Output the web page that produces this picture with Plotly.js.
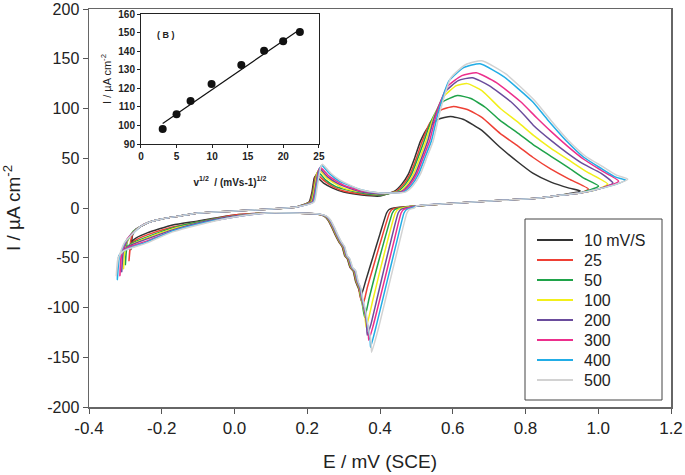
<!DOCTYPE html>
<html>
<head>
<meta charset="utf-8">
<script src="https://cdn.plot.ly/plotly-3.0.1.min.js"></script>
<style>
  html, body { margin: 0; padding: 0; background: #fff; }
  #cv { width: 685px; height: 475px; }
</style>
</head>
<body>
<div id="cv"></div>
<script>
"use strict";

// scan rates (legend labels) and line colours
var scanRates = ['10 mV/S', '25', '50', '100', '200', '300', '400', '500'];
var rateColors = ['#333333', '#ee4035', '#1fa34a', '#f2ef1a', '#6a4c9c', '#ec2f8c', '#22ade6', '#d2d2d2'];

// cyclic voltammograms, [E (V), I (uA cm-2)] in scan order
var cv10 = [[-0.285,-42],[-0.28,-27],[-0.27,-21],[-0.26,-19],[-0.24,-15],[-0.2,-11],[-0.15,-8],[-0.1,-5],[0.0,-3],[0.1,-1],[0.17,1],
  [0.205,6],[0.213,16],[0.219,30],[0.222,32],[0.23,30],[0.245,25],[0.27,20],[0.30,16],[0.35,13],[0.40,12],
  [0.44,17],[0.46,24],[0.478,34],[0.495,50],[0.511,67],[0.53,80],[0.56,89],[0.594,92],
  [0.63,89],[0.68,78],[0.73,61],[0.78,46],[0.82,35],[0.87,26],[0.92,20],[0.951,17],
  [0.9,13],[0.84,10],[0.7,7],[0.57,4],[0.5,2],
  [0.438,0],[0.425,-1.5],[0.418,-5],[0.40,-26],[0.38,-50],[0.36,-74],[0.348,-88],
  [0.34,-80],[0.333,-74],[0.326,-63],[0.318,-60],[0.31,-51],[0.303,-48],[0.296,-39],[0.287,-34],[0.277,-27],[0.267,-19],[0.257,-12],[0.245,-8],[0.225,-6],
  [0.15,-5],[0.09,-5],[0.0,-7],[-0.1,-13],[-0.17,-17],[-0.24,-25],[-0.27,-30],[-0.28,-33],[-0.285,-42]];

var cv25 = [[-0.29,-53],[-0.285,-32],[-0.275,-23],[-0.26,-19],[-0.24,-15],[-0.2,-11],[-0.15,-8],[-0.1,-5],[0.0,-3],[0.1,-1],[0.17,1],
  [0.207,6],[0.215,16],[0.222,31],[0.225,34],[0.233,32],[0.248,27],[0.273,21],[0.30,17],[0.35,14],[0.40,13],
  [0.445,17],[0.465,24],[0.483,34],[0.50,50],[0.516,67],[0.535,84],[0.565,98],[0.602,102],
  [0.64,99],[0.68,91],[0.73,75],[0.78,62],[0.82,51],[0.87,39],[0.92,29],[0.973,19],
  [0.95,15],[0.9,13],[0.84,10],[0.7,7],[0.57,4],[0.5,2],
  [0.446,0],[0.433,-1.5],[0.426,-5],[0.40,-36],[0.38,-61],[0.365,-80],[0.354,-96],
  [0.346,-90],[0.341,-80],[0.334,-74],[0.327,-63],[0.319,-60],[0.311,-51],[0.304,-48],[0.297,-39],[0.288,-34],[0.278,-27],[0.268,-19],[0.258,-12],[0.246,-8],[0.226,-6],
  [0.15,-5],[0.09,-5],[0.0,-7],[-0.1,-14],[-0.17,-19],[-0.24,-27],[-0.275,-33],[-0.285,-37],[-0.29,-53]];

var cv50 = [[-0.30,-57],[-0.295,-34],[-0.28,-24],[-0.26,-19],[-0.24,-15],[-0.2,-11],[-0.15,-8],[-0.1,-5],[0.0,-3],[0.1,-1],[0.17,1],
  [0.209,6],[0.217,17],[0.225,33],[0.228,36],[0.236,34],[0.251,28],[0.276,22],[0.30,19],[0.35,15],[0.40,13],
  [0.45,17],[0.47,24],[0.487,34],[0.504,50],[0.521,67],[0.54,87],[0.57,106],[0.613,113],
  [0.65,110],[0.69,101],[0.73,88],[0.78,75],[0.82,64],[0.87,52],[0.92,40],[0.96,30],[1.001,22],
  [0.95,15],[0.9,13],[0.84,10],[0.7,7],[0.57,4],[0.5,2],
  [0.454,0],[0.441,-1.5],[0.434,-5],[0.41,-35],[0.39,-62],[0.37,-91],[0.358,-110],
  [0.352,-98],[0.347,-90],[0.342,-80],[0.335,-74],[0.328,-63],[0.32,-60],[0.312,-51],[0.305,-48],[0.298,-39],[0.289,-34],[0.279,-27],[0.269,-19],[0.259,-12],[0.247,-8],[0.227,-6],
  [0.15,-5],[0.09,-5],[0.0,-8],[-0.1,-14],[-0.17,-20],[-0.24,-29],[-0.28,-35],[-0.295,-39],[-0.30,-57]];

var cv100 = [[-0.305,-61],[-0.30,-38],[-0.285,-27],[-0.26,-19],[-0.24,-15],[-0.2,-11],[-0.15,-8],[-0.1,-5],[0.0,-3],[0.1,-1],[0.17,1],
  [0.211,6],[0.219,18],[0.227,35],[0.231,38],[0.239,36],[0.254,30],[0.279,24],[0.30,20],[0.35,16],[0.40,14],
  [0.455,17],[0.475,24],[0.492,34],[0.509,50],[0.526,67],[0.545,89],[0.575,112],[0.61,123],[0.64,125],
  [0.68,118],[0.731,100],[0.78,86],[0.822,73],[0.87,60],[0.92,48],[0.97,36],[1.026,24],
  [1.0,19],[0.95,15],[0.9,13],[0.84,10],[0.7,7],[0.57,4],[0.5,2],
  [0.462,0],[0.449,-1.5],[0.442,-5],[0.42,-34],[0.40,-63],[0.38,-93],[0.362,-120],
  [0.358,-106],[0.353,-98],[0.348,-90],[0.343,-80],[0.336,-74],[0.329,-63],[0.321,-60],[0.313,-51],[0.306,-48],[0.299,-39],[0.29,-34],[0.28,-27],[0.27,-19],[0.26,-12],[0.248,-8],[0.228,-6],
  [0.15,-5],[0.09,-5],[0.0,-8],[-0.1,-15],[-0.17,-21],[-0.24,-30],[-0.285,-37],[-0.30,-41],[-0.305,-61]];

var cv200 = [[-0.31,-64],[-0.305,-42],[-0.29,-29],[-0.26,-19],[-0.24,-15],[-0.2,-11],[-0.15,-8],[-0.1,-5],[0.0,-3],[0.1,-1],[0.17,1],
  [0.213,6],[0.221,18],[0.23,37],[0.234,40],[0.242,37],[0.257,31],[0.282,25],[0.30,22],[0.35,16],[0.40,14],
  [0.46,17],[0.48,24],[0.497,34],[0.514,50],[0.531,67],[0.55,92],[0.58,117],[0.615,128],[0.654,131],
  [0.70,123],[0.759,107],[0.80,92],[0.822,83],[0.87,68],[0.916,55],[0.96,44],[1.007,35],[1.04,25],
  [1.0,19],[0.95,15],[0.9,13],[0.84,10],[0.7,7],[0.57,4],[0.5,2],
  [0.470,0],[0.457,-1.5],[0.450,-5],[0.43,-33],[0.41,-63],[0.39,-94],[0.375,-117],[0.365,-128],
  [0.363,-116],[0.359,-106],[0.354,-98],[0.349,-90],[0.344,-80],[0.337,-74],[0.33,-63],[0.322,-60],[0.314,-51],[0.307,-48],[0.3,-39],[0.291,-34],[0.281,-27],[0.271,-19],[0.261,-12],[0.249,-8],[0.229,-6],
  [0.15,-5],[0.09,-5],[0.0,-8],[-0.1,-15],[-0.17,-22],[-0.24,-31],[-0.29,-38],[-0.305,-43],[-0.31,-64]];

var cv300 = [[-0.315,-68],[-0.31,-46],[-0.295,-31],[-0.26,-19],[-0.24,-15],[-0.2,-11],[-0.15,-8],[-0.1,-5],[0.0,-3],[0.1,-1],[0.17,1],
  [0.215,6],[0.223,19],[0.232,38],[0.236,41],[0.245,38],[0.26,32],[0.285,26],[0.30,23],[0.35,17],[0.40,15],
  [0.46,16],[0.48,22],[0.501,34],[0.518,50],[0.536,67],[0.555,94],[0.585,122],[0.625,133],[0.665,136],
  [0.72,126],[0.786,107],[0.83,91],[0.87,77],[0.916,62],[0.96,49],[1.007,38],[1.056,27],
  [1.0,19],[0.95,15],[0.9,13],[0.84,10],[0.7,7],[0.57,4],[0.5,2],
  [0.478,0],[0.465,-1.5],[0.458,-5],[0.44,-31],[0.42,-61],[0.40,-91],[0.38,-120],[0.369,-133],
  [0.368,-124],[0.364,-116],[0.36,-106],[0.355,-98],[0.35,-90],[0.345,-80],[0.338,-74],[0.331,-63],[0.323,-60],[0.315,-51],[0.308,-48],[0.301,-39],[0.292,-34],[0.282,-27],[0.272,-19],[0.262,-12],[0.25,-8],[0.23,-6],
  [0.15,-5],[0.09,-5],[0.0,-9],[-0.1,-16],[-0.17,-23],[-0.24,-33],[-0.295,-40],[-0.31,-45],[-0.315,-68]];

var cv400 = [[-0.322,-72],[-0.317,-50],[-0.30,-34],[-0.26,-19],[-0.24,-15],[-0.2,-11],[-0.15,-8],[-0.1,-5],[0.0,-3],[0.1,-1],[0.17,1],
  [0.217,6],[0.225,20],[0.235,40],[0.24,43],[0.248,40],[0.263,34],[0.288,27],[0.30,25],[0.35,18],[0.40,15],
  [0.465,16],[0.485,22],[0.506,34],[0.523,50],[0.541,67],[0.56,96],[0.59,128],[0.63,141],[0.675,145],
  [0.74,132],[0.819,107],[0.86,89],[0.916,66],[0.96,51],[1.007,40],[1.048,31],[1.075,28],
  [1.05,24],[1.0,19],[0.95,15],[0.9,13],[0.84,10],[0.7,7],[0.57,4],[0.5,2],
  [0.486,0],[0.473,-1.5],[0.466,-5],[0.45,-28],[0.43,-58],[0.41,-88],[0.39,-118],[0.374,-140],
  [0.373,-131],[0.369,-124],[0.365,-116],[0.361,-106],[0.356,-98],[0.351,-90],[0.346,-80],[0.339,-74],[0.332,-63],[0.324,-60],[0.316,-51],[0.309,-48],[0.302,-39],[0.293,-34],[0.283,-27],[0.273,-19],[0.263,-12],[0.251,-8],[0.231,-6],
  [0.15,-5],[0.09,-5],[0.0,-9],[-0.1,-16],[-0.17,-23],[-0.24,-34],[-0.30,-42],[-0.318,-48],[-0.322,-72]];

var cv500 = [[-0.325,-68],[-0.32,-52],[-0.303,-35],[-0.26,-19],[-0.24,-15],[-0.2,-11],[-0.15,-8],[-0.1,-5],[0.0,-3],[0.1,-1],[0.17,1],
  [0.219,6],[0.227,20],[0.237,41],[0.242,44],[0.25,41],[0.265,35],[0.29,28],[0.30,26],[0.35,18],[0.40,15],
  [0.47,16],[0.49,22],[0.511,34],[0.528,50],[0.546,67],[0.565,97],[0.595,131],[0.635,144],[0.68,148],
  [0.745,135],[0.825,108],[0.87,88],[0.92,67],[0.965,52],[1.01,42],[1.05,33],[1.081,29],
  [1.05,24],[1.0,19],[0.95,15],[0.9,13],[0.84,10],[0.7,7],[0.57,4],[0.5,2],
  [0.494,0],[0.481,-1.5],[0.474,-5],[0.455,-32],[0.435,-62],[0.415,-92],[0.395,-122],[0.377,-145],
  [0.376,-138],[0.374,-131],[0.37,-124],[0.366,-116],[0.362,-106],[0.357,-98],[0.352,-90],[0.347,-80],[0.34,-74],[0.333,-63],[0.325,-60],[0.317,-51],[0.31,-48],[0.303,-39],[0.294,-34],[0.284,-27],[0.274,-19],[0.264,-12],[0.252,-8],[0.232,-6],
  [0.15,-5],[0.09,-5],[0.0,-9],[-0.1,-17],[-0.17,-24],[-0.24,-35],[-0.305,-43],[-0.32,-50],[-0.325,-68]];

var cvCurves = [cv10, cv25, cv50, cv100, cv200, cv300, cv400, cv500];

// inset (B): anodic peak current vs square root of scan rate
var sqrtRate = [3.05, 5.0, 6.97, 9.92, 14.1, 17.3, 19.98, 22.33];
var peakCurrent = [98.1, 106.0, 113.1, 122.3, 132.5, 140.2, 145.3, 150.3];
var fitX = [3.05, 22.47];
var fitY = [101.1, 152.1];

// tick labels
var xTickVals = [-0.4, -0.2, 0.0, 0.2, 0.4, 0.6, 0.8, 1.0, 1.2];
var xTickText = ['-0.4', '-0.2', '0.0', '0.2', '0.4', '0.6', '0.8', '1.0', '1.2'];
var yTickVals = [-200, -150, -100, -50, 0, 50, 100, 150, 200];
var yTickText = ['-200', '-150', '-100', '-50', '0', '50', '100', '150', '200'];

function col(rows, k){
	return rows.map(function(r){ return r[k]; });
}

var data = [];
for(var i = 0; i < cvCurves.length; i++){
	data.push({
		type: 'scatter',
		mode: 'lines',
		name: scanRates[i],
		x: col(cvCurves[i], 0),
		y: col(cvCurves[i], 1),
		line: {color: rateColors[i], width: 1.5, shape: 'spline', smoothing: 0.5},
		showlegend: false,
		xaxis: 'x', yaxis: 'y'
	});
}

// inset traces
data.push({
	type: 'scatter', mode: 'lines', x: fitX, y: fitY,
	line: {color: '#111', width: 1.2}, showlegend: false,
	xaxis: 'x2', yaxis: 'y2'
});
data.push({
	type: 'scatter', mode: 'markers', x: sqrtRate, y: peakCurrent,
	marker: {color: '#111', size: 8}, showlegend: false,
	xaxis: 'x2', yaxis: 'y2'
});

var FONT = 'Liberation Sans, Arial, Helvetica, sans-serif';

// plot area: left 89, top 9, width 582, height 398 (px)
var PT = 9, PB = 407;
function px2x(p){ return (p - 89) / 582; }
function px2y(p){ return (PB - p) / (PB - PT); }

// legend box, built from the scan-rate list
var shapes = [{
	type: 'rect', xref: 'paper', yref: 'paper',
	x0: px2x(525), x1: px2x(662), y0: px2y(400), y1: px2y(219),
	line: {color: '#444', width: 1}, fillcolor: '#fff', layer: 'above'
}];
var annotations = [{
	text: '( B )', xref: 'x2', yref: 'y2', x: 3.5, y: 148.7,
	showarrow: false, font: {size: 9, weight: 'bold', color: '#222'}
}];
for(var k = 0; k < scanRates.length; k++){
	var yc = 240 + 20 * k;
	shapes.push({
		type: 'line', xref: 'paper', yref: 'paper',
		x0: px2x(537), x1: px2x(573), y0: px2y(yc), y1: px2y(yc),
		line: {color: rateColors[k], width: 2}, layer: 'above'
	});
	annotations.push({
		text: scanRates[k], xref: 'paper', yref: 'paper',
		x: px2x(582), y: px2y(yc), xanchor: 'left', yanchor: 'middle',
		showarrow: false, font: {family: FONT, size: 16, color: '#222'}
	});
}

var layout = {
	width: 685, height: 475,
	margin: {l: 89, r: 14, t: PT, b: 475 - PB},
	paper_bgcolor: '#fff',
	plot_bgcolor: '#fff',
	font: {family: FONT, color: '#222', size: 15},
	showlegend: false,
	xaxis: {
		range: [-0.4, 1.2], tickvals: xTickVals, ticktext: xTickText,
		ticks: 'outside', ticklen: 5, tickcolor: '#555',
		showline: true, mirror: true, linecolor: '#666', linewidth: 1.5,
		showgrid: false, zeroline: false,
		tickfont: {size: 17, color: '#222'},
		title: {text: 'E / mV (SCE)', font: {size: 19, color: '#222'}, standoff: 18}
	},
	yaxis: {
		range: [-200, 200], tickvals: yTickVals, ticktext: yTickText,
		ticks: 'outside', ticklen: 5, tickcolor: '#555',
		showline: true, mirror: true, linecolor: '#666', linewidth: 1.5,
		showgrid: false, zeroline: false, ticklabeloverflow: 'allow',
		tickfont: {size: 16, color: '#222'},
		title: {text: 'I / \u00b5A cm<sup>-2</sup>', font: {size: 19, color: '#222'}, standoff: 24}
	},
	xaxis2: {
		domain: [0.0893, 0.395], anchor: 'y2', range: [0, 25],
		tickvals: [0, 5, 10, 15, 20, 25],
		ticks: 'outside', ticklen: 3, tickcolor: '#222',
		showline: true, mirror: true, linecolor: '#222', linewidth: 1,
		showgrid: false, zeroline: false,
		tickfont: {size: 10, weight: 'bold', color: '#222'},
		title: {text: 'v<sup>1/2</sup>  / (mVs-1)<sup>1/2</sup>', font: {size: 10, weight: 'bold', color: '#222'}, standoff: 17}
	},
	yaxis2: {
		domain: [px2y(144), px2y(14)], anchor: 'x2', range: [90, 160],
		tickvals: [90, 100, 110, 120, 130, 140, 150, 160],
		ticks: 'outside', ticklen: 3, tickcolor: '#222',
		showline: true, mirror: true, linecolor: '#222', linewidth: 1,
		showgrid: false, zeroline: false,
		tickfont: {size: 10, weight: 'bold', color: '#222'},
		title: {text: 'I / \u00b5A cm<sup>-2</sup>', font: {size: 11, color: '#222'}, standoff: 4}
	},
	shapes: shapes,
	annotations: annotations
};

Plotly.newPlot('cv', data, layout, {displayModeBar: false, staticPlot: true});
</script>
</body>
</html>
